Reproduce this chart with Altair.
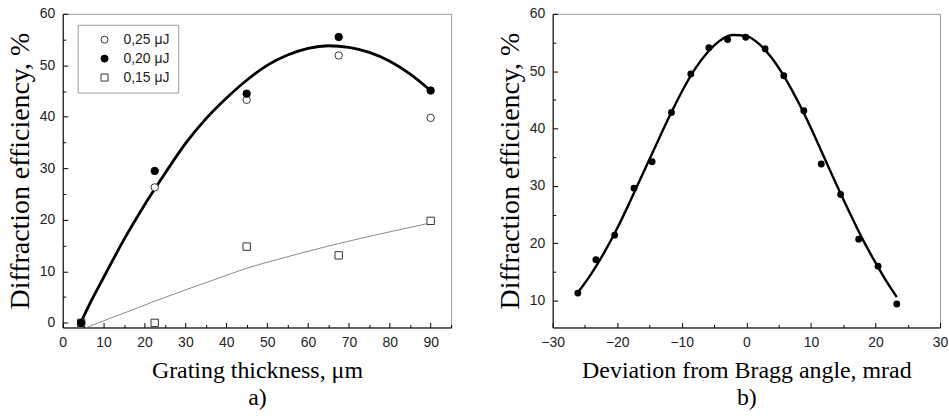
import altair as alt
import pandas as pd

SANS = "Liberation Sans"
SERIF = "Liberation Serif"

# ---------------- panel a) data ----------------
thickness = [4.5, 22.5, 45, 67.5, 90]
eff_025 = [0, 26.3, 43.3, 51.9, 39.8]
eff_020 = [0, 29.5, 44.5, 55.5, 45.1]
eff_015 = [0, 0, 14.8, 13.1, 19.8]
series_names = ["0,25 μJ", "0,20 μJ", "0,15 μJ"]

fit020_x = [4.4, 7, 10, 15, 20, 25, 30, 35, 40, 45, 50, 55, 60, 65, 70, 75, 80, 85, 90]
fit020_y = [0, 4.3, 8.8, 16.2, 22.9, 29.0, 34.8, 39.6, 43.6, 47.1, 50.0, 52.0, 53.3, 53.8, 53.5, 52.5, 50.8, 48.3, 45.1]
fit015_x = [5.8, 10, 15, 22.5, 30, 37.5, 45, 52.5, 60, 67.5, 75, 82.5, 90]
fit015_y = [-0.9, 0.4, 1.9, 4.2, 6.4, 8.5, 10.6, 12.3, 13.9, 15.4, 16.8, 18.1, 19.4]

# ---------------- panel b) data ----------------
dev_x = [-26.1, -23.3, -20.4, -17.4, -14.6, -11.6, -8.6, -5.8, -2.9, -0.1,
         2.9, 5.8, 8.9, 11.6, 14.6, 17.4, 20.4, 23.3]
dev_y = [11.3, 17.1, 21.4, 29.6, 34.2, 42.8, 49.5, 54.1, 55.5, 55.9,
         53.9, 49.2, 43.1, 33.8, 28.5, 20.7, 16.0, 9.4]
devfit_x = [-26.1, -24, -22, -20, -18, -16, -14, -12, -10, -8, -6, -4, -2, 0,
            2, 4, 6, 8, 10, 12, 14, 16, 18, 20, 22, 23.3]
devfit_y = [11.4, 14.7, 18.4, 22.6, 27.3, 32.2, 37.1, 41.9, 46.4, 50.3, 53.3, 55.4, 56.3, 56.1,
            54.7, 52.2, 48.8, 44.7, 40.1, 35.1, 30.1, 25.3, 20.7, 16.6, 12.8, 10.6]

# tick values
a_x_major = [0, 10, 20, 30, 40, 50, 60, 70, 80, 90]
a_x_minor = [5, 15, 25, 35, 45, 55, 65, 75, 85, 95]
a_y_major = [0, 10, 20, 30, 40, 50, 60]
a_y_minor = [5, 15, 25, 35, 45, 55]
b_x_major = [-30, -20, -10, 0, 10, 20, 30]
b_x_minor = [-25, -15, -5, 5, 15, 25]
b_y_major = [10, 20, 30, 40, 50, 60]
b_y_minor = [15, 25, 35, 45, 55]

# ---------------- tables ----------------
pts_a = pd.DataFrame({
    "x": thickness * 3,
    "y": eff_025 + eff_015 + eff_020,
    "series": [series_names[0]] * 5 + [series_names[2]] * 5 + [series_names[1]] * 5,
    "order": list(range(15)),
})
fit_a1 = pd.DataFrame({"x": fit020_x, "y": fit020_y})
fit_a2 = pd.DataFrame({"x": fit015_x, "y": fit015_y})
pts_b = pd.DataFrame({"x": dev_x, "y": dev_y})
fit_b = pd.DataFrame({"x": devfit_x, "y": devfit_y})

W_A, H_A = 390, 315
W_B, H_B = 389, 315


def label_axis_x(values, title):
    return alt.Axis(orient="bottom", values=values, ticks=False, tickSize=0,
                    domain=True, domainColor="black", domainWidth=1, grid=False,
                    labelFont=SANS, labelFontSize=14, labelColor="#222",
                    labelPadding=8, labelFlush=False, labelOverlap=False,
                    title=title, titleFont=SERIF, titleFontSize=24,
                    titleFontWeight="normal", titleColor="black",
                    titleLineHeight=27, titlePadding=9)


def label_axis_y(values, title):
    return alt.Axis(orient="left", values=values, ticks=False, tickSize=0,
                    domain=True, domainColor="black", domainWidth=1, grid=False,
                    labelFont=SANS, labelFontSize=14, labelColor="#222",
                    labelPadding=8, labelFlush=False, labelOverlap=False,
                    title=title, titleFont=SERIF, titleFontSize=28,
                    titleFontWeight="normal", titleColor="black", titlePadding=5)


def tick_axis(orient, values, size):
    return alt.Axis(orient=orient, values=values, ticks=True, tickSize=size,
                    offset=-size, tickColor="black", tickWidth=1,
                    labels=False, domain=False, grid=False, title=None)


# ---------------- panel a ----------------
xa = alt.Scale(domain=[0, 95], nice=False, zero=False)
ya = alt.Scale(domain=[-0.9, 60], nice=False, zero=False)

a_fit1 = alt.Chart(fit_a1).mark_line(color="black", strokeWidth=2.8, interpolate="monotone").encode(
    x=alt.X("x:Q", scale=xa, axis=label_axis_x(a_x_major, ["Grating thickness, μm", "a)"])),
    y=alt.Y("y:Q", scale=ya, axis=label_axis_y(a_y_major, "Diffraction efficiency, %")),
)
a_fit2 = alt.Chart(fit_a2).mark_line(color="#8a8a8a", strokeWidth=1, interpolate="monotone").encode(
    x=alt.X("x:Q", scale=xa, axis=tick_axis("bottom", a_x_major, 5)),
    y=alt.Y("y:Q", scale=ya, axis=tick_axis("left", a_y_major, 5)),
)
legend = alt.Legend(title=None, orient="none", legendX=15, legendY=11,
                    strokeColor="#999", fillColor="white", padding=8,
                    rowPadding=5, symbolOffset=12, labelOffset=12,
                    labelFont=SANS, labelFontSize=14, labelColor="#222",
                    symbolSize=50, symbolStrokeWidth=1)
a_pts = alt.Chart(pts_a).mark_point(filled=True, size=55, strokeWidth=1, opacity=1).encode(
    x=alt.X("x:Q", scale=xa, axis=tick_axis("bottom", a_x_minor, 3)),
    y=alt.Y("y:Q", scale=ya, axis=tick_axis("left", a_y_minor, 3)),
    shape=alt.Shape("series:N", scale=alt.Scale(domain=series_names, range=["circle", "circle", "square"]), legend=legend),
    fill=alt.Fill("series:N", scale=alt.Scale(domain=series_names, range=["white", "black", "white"]), legend=legend),
    stroke=alt.Stroke("series:N", scale=alt.Scale(domain=series_names, range=["#333333", "black", "#333333"]), legend=legend),
    order=alt.Order("order:Q"),
)
panel_a = alt.layer(a_fit2, a_fit1, a_pts).resolve_axis(x="independent", y="independent").properties(width=W_A, height=H_A)

# ---------------- panel b ----------------
xb = alt.Scale(domain=[-30, 30], nice=False, zero=False)
yb = alt.Scale(domain=[5.3, 60], nice=False, zero=False)

b_fit = alt.Chart(fit_b).mark_line(color="black", strokeWidth=2.4, interpolate="monotone").encode(
    x=alt.X("x:Q", scale=xb, axis=label_axis_x(b_x_major, ["Deviation from Bragg angle, mrad", "b)"])),
    y=alt.Y("y:Q", scale=yb, axis=label_axis_y(b_y_major, "Diffraction efficiency, %")),
)
b_pts = alt.Chart(pts_b).mark_circle(color="black", size=48, opacity=1).encode(
    x=alt.X("x:Q", scale=xb, axis=tick_axis("bottom", b_x_major, 5)),
    y=alt.Y("y:Q", scale=yb, axis=tick_axis("left", b_y_major, 5)),
)
b_minor = alt.Chart(fit_b).mark_line(strokeOpacity=0).encode(
    x=alt.X("x:Q", scale=xb, axis=tick_axis("bottom", b_x_minor, 3)),
    y=alt.Y("y:Q", scale=yb, axis=tick_axis("left", b_y_minor, 3)),
)
panel_b = alt.layer(b_minor, b_fit, b_pts).resolve_axis(x="independent", y="independent").properties(width=W_B, height=H_B)

chart = alt.hconcat(panel_a, panel_b, spacing=43).configure(
    padding={"left": 5, "top": 5, "right": 0, "bottom": 0},
    background="white",
).configure_view(stroke="#999", strokeWidth=1)

chart.save("out.html", embed_options={"renderer": "svg", "actions": False})
